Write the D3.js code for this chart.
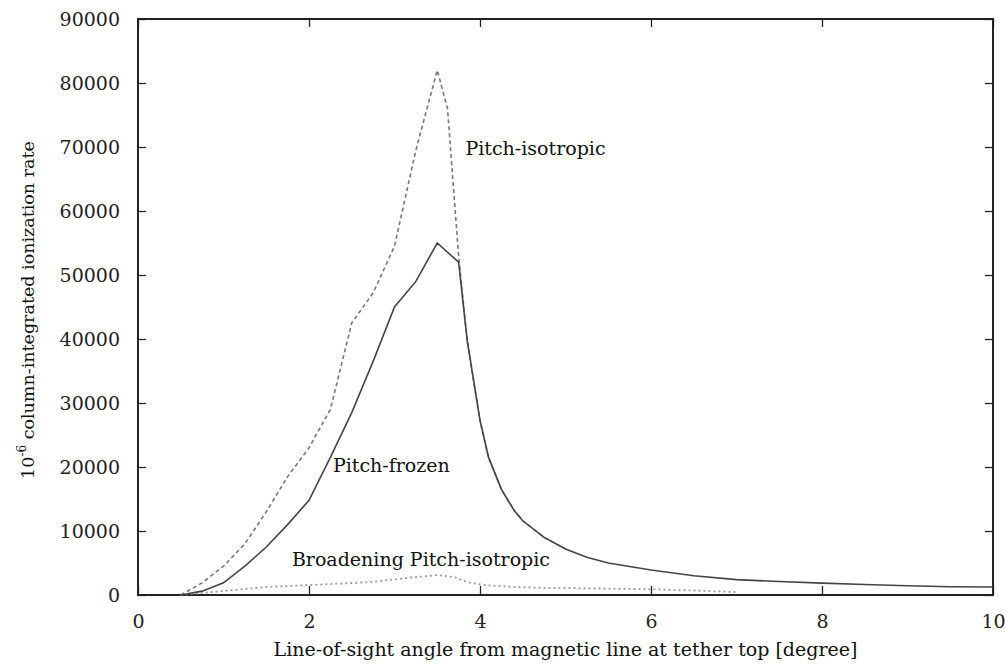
<!DOCTYPE html>
<html>
<head>
<meta charset="utf-8">
<script src="https://cdn.jsdelivr.net/npm/d3@7"></script>
<style>
  body { margin: 0; background: #fff; }
  svg { display: block; }
</style>
</head>
<body>
<svg id="chart"></svg>
<script>
// Pitch-frozen (solid)
const frozenX = [0.5, 0.75, 1.0, 1.25, 1.5, 1.75, 2.0, 2.25, 2.5, 2.75, 3.0, 3.25, 3.5, 3.75, 3.85, 4.0, 4.1, 4.25, 4.4, 4.5, 4.75, 5.0, 5.25, 5.5, 6.0, 6.5, 7.0, 7.5, 8.0, 8.5, 9.0, 9.5, 10];
const frozenY = [0, 600, 1900, 4500, 7500, 11000, 14800, 21500, 28500, 36500, 45000, 49000, 55000, 52000, 39800, 27300, 21500, 16500, 13200, 11600, 9000, 7200, 5900, 5000, 3900, 3000, 2400, 2100, 1850, 1650, 1450, 1300, 1250];

// Pitch-isotropic (dashed); merges with the solid one after 3.75
const isoX = [0.5, 0.75, 1.0, 1.25, 1.5, 1.75, 2.0, 2.25, 2.5, 2.75, 3.0, 3.25, 3.5, 3.62, 3.75, 3.85, 4.0, 4.1, 4.25, 4.4, 4.5, 4.75, 5.0];
const isoY = [0, 1900, 4500, 8000, 13000, 18500, 23000, 29000, 42500, 47200, 54500, 69500, 82000, 76000, 53000, 39800, 27300, 21500, 16500, 13200, 11600, 9000, 7200];

// Broadening Pitch-isotropic (dotted)
const broadX = [0.5, 0.9, 1.5, 2.0, 2.7, 3.25, 3.5, 3.7, 3.85, 4.05, 4.4, 4.8, 5.5, 6.0, 6.5, 7.0];
const broadY = [0, 500, 1250, 1550, 2000, 2800, 3100, 2800, 2000, 1550, 1250, 1100, 1000, 900, 700, 450];

const xTicks = [0, 2, 4, 6, 8, 10];
const yTicks = [0, 10000, 20000, 30000, 40000, 50000, 60000, 70000, 80000, 90000];

let width = 1005;
let height = 667;
let margin = { top: 19, right: 12, bottom: 72, left: 138 };

let svg = d3.select("#chart")
    .attr("width", width)
    .attr("height", height);

let xScale = d3.scaleLinear()
    .domain([0, 10])
    .range([margin.left, width - margin.right]);

let yScale = d3.scaleLinear()
    .domain([0, 90000])
    .range([height - margin.bottom, margin.top]);

const font = "'DejaVu Serif', 'Liberation Serif', serif";
const axisColor = "#222";

// axes: ticks point inward, mirrored on top and right
function styleAxis(g) {
    g.select(".domain").remove();
    g.selectAll(".tick line").attr("stroke", axisColor).attr("stroke-width", 1.3);
    g.selectAll(".tick text")
        .attr("font-family", font)
        .attr("font-size", 19)
        .attr("fill", "#222");
}

svg.append("g")
    .attr("transform", `translate(0, ${height - margin.bottom})`)
    .call(d3.axisBottom(xScale).tickValues(xTicks).tickSize(-9).tickPadding(20).tickFormat(d3.format("d")))
    .call(styleAxis);

svg.append("g")
    .attr("transform", `translate(0, ${margin.top})`)
    .call(d3.axisTop(xScale).tickValues(xTicks).tickSize(-8).tickFormat(""))
    .call(styleAxis);

svg.append("g")
    .attr("transform", `translate(${margin.left}, 0)`)
    .call(d3.axisLeft(yScale).tickValues(yTicks).tickSize(-8).tickPadding(18).tickFormat(d3.format("d")))
    .call(styleAxis);

svg.append("g")
    .attr("transform", `translate(${width - margin.right}, 0)`)
    .call(d3.axisRight(yScale).tickValues(yTicks).tickSize(-8).tickFormat(""))
    .call(styleAxis);

// frame
svg.append("rect")
    .attr("x", margin.left)
    .attr("y", margin.top)
    .attr("width", width - margin.left - margin.right)
    .attr("height", height - margin.top - margin.bottom)
    .attr("fill", "none")
    .attr("stroke", axisColor)
    .attr("stroke-width", 2);

let line = d3.line()
    .x(d => xScale(d[0]))
    .y(d => yScale(d[1]));

// draw the curves
svg.append("path")
    .datum(broadX.map((x, i) => [x, broadY[i]]))
    .attr("d", line)
    .attr("fill", "none")
    .attr("stroke", "#999")
    .attr("stroke-width", 1.8)
    .attr("stroke-dasharray", "2,3");

svg.append("path")
    .datum(isoX.map((x, i) => [x, isoY[i]]))
    .attr("d", line)
    .attr("fill", "none")
    .attr("stroke", "#777")
    .attr("stroke-width", 1.6)
    .attr("stroke-dasharray", "4,3");

svg.append("path")
    .datum(frozenX.map((x, i) => [x, frozenY[i]]))
    .attr("d", line)
    .attr("fill", "none")
    .attr("stroke", "#444")
    .attr("stroke-width", 1.6);

// curve labels
function label(text, x, y) {
    svg.append("text")
        .attr("x", xScale(x))
        .attr("y", yScale(y))
        .attr("font-family", font)
        .attr("font-size", 19)
        .attr("fill", "#111")
        .text(text);
}
label("Pitch-isotropic", 3.83, 68700);
label("Pitch-frozen", 2.28, 19200);
label("Broadening Pitch-isotropic", 1.8, 4600);

// axis titles
svg.append("text")
    .attr("x", (margin.left + width - margin.right) / 2)
    .attr("y", 656)
    .attr("text-anchor", "middle")
    .attr("font-family", font)
    .attr("font-size", 19)
    .attr("fill", "#111")
    .text("Line-of-sight angle from magnetic line at tether top [degree]");

let ylab = svg.append("text")
    .attr("transform", "translate(34, 310) rotate(-90)")
    .attr("text-anchor", "middle")
    .attr("font-family", font)
    .attr("font-size", 17.5)
    .attr("fill", "#111");
ylab.append("tspan").text("10");
ylab.append("tspan").attr("dy", -8).attr("font-size", 12).text("-6");
ylab.append("tspan").attr("dy", 8).text(" column-integrated ionization rate");
</script>
</body>
</html>
